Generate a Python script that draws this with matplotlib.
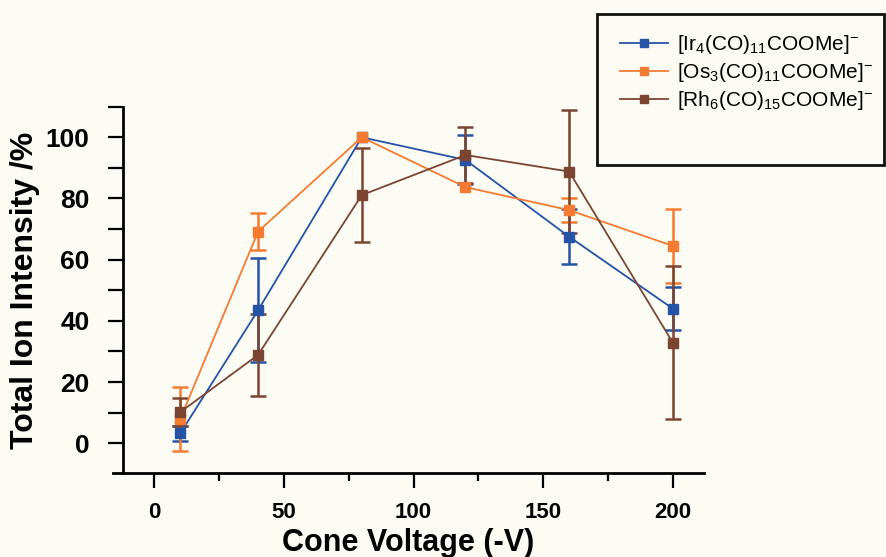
import numpy as np
import matplotlib
matplotlib.use("Agg")
import matplotlib.pyplot as plt
from matplotlib.patches import Rectangle
from matplotlib.ticker import MultipleLocator

plt.rcParams['font.family'] = ['Liberation Sans', 'DejaVu Sans']
plt.rcParams['mathtext.fontset'] = 'custom'
plt.rcParams['mathtext.rm'] = 'Liberation Sans'
plt.rcParams['mathtext.default'] = 'regular'

# Cone voltage settings (-V)
voltage = [10, 40, 80, 120, 160, 200]

# Normalised total ion intensity (%) and standard deviations
ir_int = [3.3, 43.5, 100, 92.6, 67.5, 44.0]
ir_err = [2.4, 17.0, np.nan, 8.0, 9.0, 7.0]

os_int = [8.0, 69.2, 100, 83.7, 76.2, 64.5]
os_err = [10.5, 6.0, np.nan, np.nan, 4.0, 12.0]

rh_int = [10.2, 28.9, 81.1, 94.2, 88.8, 32.9]
rh_err = [4.7, 13.4, 15.4, 9.0, 20.0, 25.0]

labels = [r'[Ir$_4$(CO)$_{11}$COOMe]$^{-}$',
          r'[Os$_3$(CO)$_{11}$COOMe]$^{-}$',
          r'[Rh$_6$(CO)$_{15}$COOMe]$^{-}$']
colors = ['#2553a6', '#f47b31', '#7b4532']

bg = '#fcfbf4'
fig = plt.figure(figsize=(8.86, 5.57), dpi=100, facecolor=bg)
ax = fig.add_axes([0.1275, 0.1503, 0.667, 0.6582], facecolor=bg)

handles = []
for y, e, c, lab in zip([ir_int, os_int, rh_int], [ir_err, os_err, rh_err], colors, labels):
    h = ax.errorbar(voltage, y, yerr=e, color=c, lw=1.3, marker='s', ms=7,
                    mec=c, mfc=c, elinewidth=1.8, capsize=6, capthick=1.8,
                    label=lab)
    handles.append(h[0])

ax.set_xlim(-16, 212)
ax.set_ylim(-9.8, 110)

for s in ['top', 'right']:
    ax.spines[s].set_visible(False)
for s in ['left', 'bottom']:
    ax.spines[s].set_linewidth(2.0)
ax.spines['left'].set_position(('data', -12.2))
ax.spines['left'].set_bounds(-9.8, 110)

ax.xaxis.set_major_locator(MultipleLocator(50))
ax.xaxis.set_minor_locator(MultipleLocator(25))
ax.set_yticks(np.arange(0, 101, 20))
ax.set_yticks(np.arange(10, 111, 20), minor=True)

ax.tick_params(axis='y', which='both', direction='out', length=11, width=1.6)
ax.tick_params(axis='y', which='major', labelsize=19, pad=13)
ax.tick_params(axis='x', which='major', direction='out', length=11, width=1.6,
               labelsize=16, pad=10)
ax.tick_params(axis='x', which='minor', direction='out', length=6, width=1.6)
for t in ax.get_xticklabels() + ax.get_yticklabels():
    t.set_fontweight('bold')

ax.set_xlabel('Cone Voltage (-V)', fontsize=22, fontweight='bold', labelpad=3)
ax.set_ylabel('Total Ion Intensity /%', fontsize=23, fontweight='bold', labelpad=4)

# Legend with a hand-drawn frame
leg = fig.legend(handles, labels, loc='upper left',
                 bbox_to_anchor=(620 / 886, 1 - 33 / 557), frameon=False,
                 fontsize=15, handlelength=2.3, handletextpad=0.45,
                 labelspacing=0.24, borderpad=0, borderaxespad=0,
                 markerscale=0.9)
fig.add_artist(Rectangle((597 / 886, 1 - 165 / 557), (884 - 597) / 886,
                         (165 - 14) / 557, transform=fig.transFigure,
                         fill=False, lw=2.0, ec='#111111'))

fig.savefig('out.png', dpi=100, facecolor=bg)
